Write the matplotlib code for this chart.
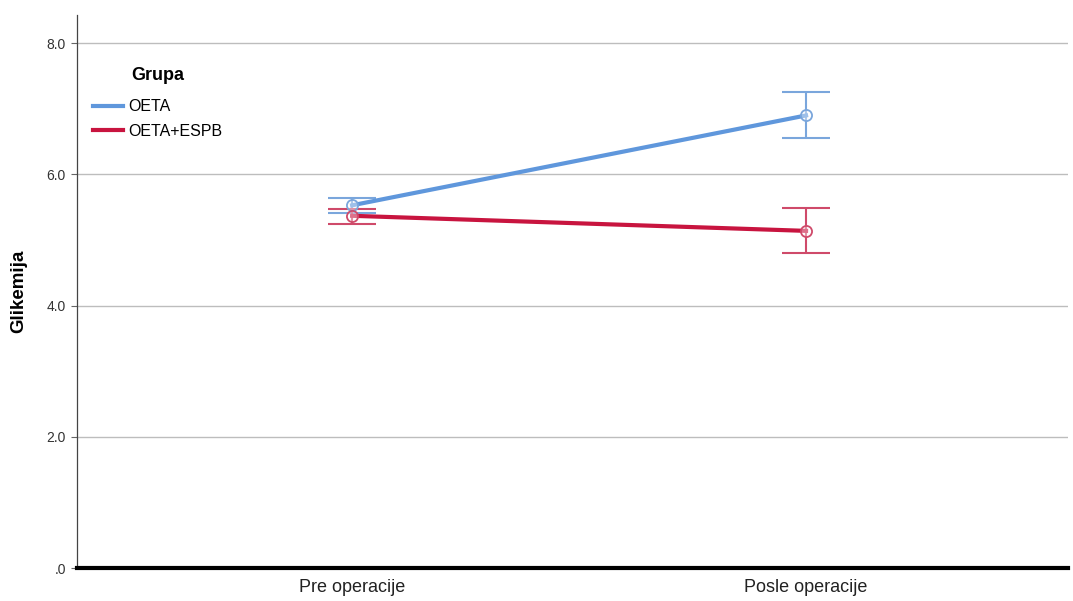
import matplotlib
matplotlib.use("Agg")
import matplotlib.pyplot as plt
import numpy as np

plt.rcParams['font.family'] = ['Liberation Sans', 'DejaVu Sans']

categories = ["Pre operacije", "Posle operacije"]
groups = ["OETA", "OETA+ESPB"]
means = {
    "OETA": [5.53, 6.90],
    "OETA+ESPB": [5.37, 5.14],
}
ci_low = {
    "OETA": [5.42, 6.56],
    "OETA+ESPB": [5.25, 4.80],
}
ci_high = {
    "OETA": [5.64, 7.26],
    "OETA+ESPB": [5.48, 5.49],
}
line_colors = {"OETA": "#5f97dc", "OETA+ESPB": "#c8143f"}
bar_colors = {"OETA": "#7aa6dc", "OETA+ESPB": "#cf4a6a"}
y_ticks = [0, 2, 4, 6, 8]
y_ticklabels = [".0", "2.0", "4.0", "6.0", "8.0"]

fig = plt.figure(figsize=(10.73, 6.01), dpi=100)
ax = fig.add_axes([0.0718, 0.0549, 0.9235, 0.920])

x = np.arange(len(categories))
for g in groups:
    m = np.array(means[g])
    lo = np.array(ci_low[g])
    hi = np.array(ci_high[g])
    ax.errorbar(x, m, yerr=[m - lo, hi - m], fmt="none", ecolor=bar_colors[g],
                elinewidth=1.5, capsize=17, capthick=1.5, zorder=3)
    ax.plot(x, m, color=line_colors[g], lw=3, zorder=4, label=g)
    ax.plot(x, m, linestyle="none", marker="o", ms=8, mew=1.3,
            mec=bar_colors[g], mfc=(1, 1, 1, 0.4), zorder=5)

ax.set_xlim(-0.606, 1.577)
ax.set_ylim(0, 8.43)
ax.set_xticks(x)
ax.set_xticklabels(categories, fontsize=13, color="#222222")
ax.set_yticks(y_ticks)
ax.set_yticklabels(y_ticklabels, fontsize=10, color="#333333")
ax.tick_params(axis="x", length=0, pad=8)
ax.tick_params(axis="y", length=4, width=0.8, color="#666666", pad=4)

for yv in y_ticks[1:]:
    ax.axhline(yv, color="#bdbdbd", lw=1.0, zorder=1)

for s in ["top", "right"]:
    ax.spines[s].set_visible(False)
ax.spines["left"].set_color("#444444")
ax.spines["left"].set_linewidth(0.9)
ax.spines["bottom"].set_color("black")
ax.spines["bottom"].set_linewidth(3)

ax.set_ylabel("Glikemija", fontsize=13.5, fontweight="bold", labelpad=14)

leg = ax.legend(title="Grupa", loc="upper left", bbox_to_anchor=(0.0, 0.935),
                frameon=False, fontsize=11.5, handlelength=1.85, handletextpad=0.35,
                labelspacing=0.6, borderaxespad=0.6)
leg.get_title().set_fontweight("bold")
leg.get_title().set_fontsize(13)
leg._legend_box.align = "left"
leg._legend_box.sep = 11
leg.get_title().set_position((38, 0))
for h in leg.get_lines():
    h.set_linewidth(3)

fig.savefig("out.png", dpi=100, facecolor="white")
